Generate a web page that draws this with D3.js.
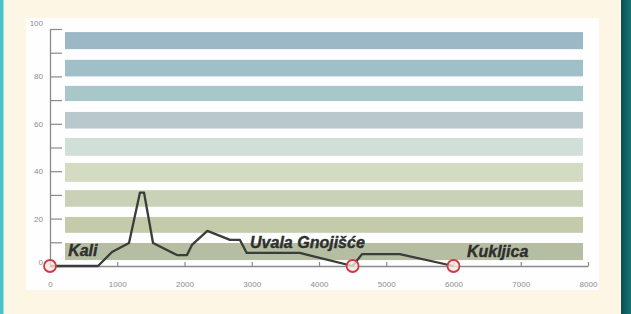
<!DOCTYPE html>
<html>
<head>
<meta charset="utf-8">
<script src="https://cdn.jsdelivr.net/npm/d3@7"></script>
<style>
  body { margin: 0; background: #fdf6e4; }
  svg { display: block; font-family: "Liberation Sans", Arial, sans-serif; }
</style>
</head>
<body>
<div id="container"></div>
<script>
// elevation profile along the route (distance m, height m)
const profileDist  = [0, 714, 922, 1175, 1338, 1398, 1532, 1888, 2037, 2111, 2340, 2677, 2825, 2925, 3715, 3860, 4500, 4640, 5200, 6000];
const profileValue = [0, 0, 5.9, 9.7, 31, 31, 9.7, 4.6, 4.6, 8.9, 14.8, 11, 11, 5.5, 5.5, 4.5, 0, 5, 5, 0];

// background bands, top to bottom
const bandLow  = [91.5, 80, 69.6, 58, 46.5, 35.5, 25, 14, 2.5];
const bandHigh = [98.7, 87, 76, 65, 54, 43.5, 32, 20.7, 9.7];
const bandColors = ["#9cb8c6", "#9fc0c8", "#a8c7c8", "#b8c8cd", "#d0dfd7", "#d3dbc2", "#c9d1b6", "#c3cbab", "#b5bda2"];
const bandFrom = 223, bandTo = 7926;

// marked places
const placeDist = [0, 4500, 6000];
const labelNames = ["Kali", "Uvala Gnojišće", "Kukljica"];
const labelDist  = [270, 2975, 6200];
const labelValue = [4.2, 7.6, 3.8];

const xTicks = [0, 1000, 2000, 3000, 4000, 5000, 6000, 7000, 8000];
const yTicks = [0, 10, 20, 30, 40, 50, 60, 70, 80, 90, 100];

const width = 631;
const height = 314;

const svg = d3.select("#container")
  .append("svg")
  .attr("width", width)
  .attr("height", height);

const defs = svg.append("defs");
const grad = defs.append("linearGradient").attr("id", "edge");
grad.append("stop").attr("offset", "0%").attr("stop-color", "#0b4f52");
grad.append("stop").attr("offset", "100%").attr("stop-color", "#157673");

svg.append("rect").attr("width", width).attr("height", height).attr("fill", "#fdf6e4");
svg.append("rect").attr("x", 0).attr("width", 3.5).attr("height", height).attr("fill", "#48c3cb");
svg.append("rect").attr("x", 621).attr("width", 10).attr("height", height).attr("fill", "url(#edge)");
svg.append("rect").attr("x", 26).attr("y", 18).attr("width", 573).attr("height", 272).attr("fill", "#fefefe");

const xScale = d3.scaleLinear().domain([0, 8000]).range([50, 588]);
const yScale = d3.scaleLinear().domain([0, 100]).range([266, 29]);

svg.selectAll("rect.band")
  .data(bandColors)
  .enter()
  .append("rect")
  .attr("class", "band")
  .attr("x", xScale(bandFrom))
  .attr("width", xScale(bandTo) - xScale(bandFrom))
  .attr("y", (d, i) => yScale(bandHigh[i]))
  .attr("height", (d, i) => yScale(bandLow[i]) - yScale(bandHigh[i]))
  .attr("fill", (d) => d);

const yAxis = d3.axisLeft(yScale)
  .tickValues(yTicks)
  .tickSizeInner(-12)
  .tickSizeOuter(0)
  .tickPadding(7)
  .tickFormat((d) => (d % 20 === 0 ? d : ""));

const xAxis = d3.axisBottom(xScale)
  .tickValues(xTicks)
  .tickSizeInner(-4)
  .tickSizeOuter(0)
  .tickPadding(15)
  .tickFormat(d3.format("d"));

const gy = svg.append("g")
  .attr("transform", `translate(${xScale(0)}, 0)`)
  .call(yAxis);

const gx = svg.append("g")
  .attr("transform", `translate(0, ${yScale(0)})`)
  .call(xAxis);

[gx, gy].forEach((g) => {
  g.select(".domain").attr("stroke", "#8a8a8a").attr("stroke-width", 1.3);
  g.selectAll(".tick line").attr("stroke", "#8a8a8a").attr("stroke-width", 1.2);
  g.selectAll(".tick text").attr("fill", "#8c8c8c").style("font-size", "8px");
});
gy.selectAll(".tick text").filter((d) => d === 100).attr("dy", "-0.4em");
gy.selectAll(".tick text").filter((d) => d === 0).attr("dy", "-0.2em");

const line = d3.line()
  .x((d, i) => xScale(profileDist[i]))
  .y((d, i) => yScale(profileValue[i]));

svg.append("path")
  .datum(profileValue)
  .attr("d", line)
  .attr("fill", "none")
  .attr("stroke", "#3a3d3a")
  .attr("stroke-width", 2.3)
  .attr("stroke-linejoin", "round");

svg.selectAll("circle.place")
  .data(placeDist)
  .enter()
  .append("circle")
  .attr("class", "place")
  .attr("cx", (d) => xScale(d))
  .attr("cy", yScale(0))
  .attr("r", 6)
  .attr("fill", "#f6e6e2")
  .attr("fill-opacity", 0.8)
  .attr("stroke", "#cf3b45")
  .attr("stroke-width", 1.8);

svg.selectAll("text.place")
  .data(labelNames)
  .enter()
  .append("text")
  .attr("class", "place")
  .attr("x", (d, i) => xScale(labelDist[i]))
  .attr("y", (d, i) => yScale(labelValue[i]))
  .attr("fill", "#2e302e")
  .attr("stroke", "#2e302e")
  .attr("stroke-width", 0.4)
  .style("font-size", "16px")
  .style("font-weight", "bold")
  .style("font-style", "italic")
  .text((d) => d);
</script>
</body>
</html>
